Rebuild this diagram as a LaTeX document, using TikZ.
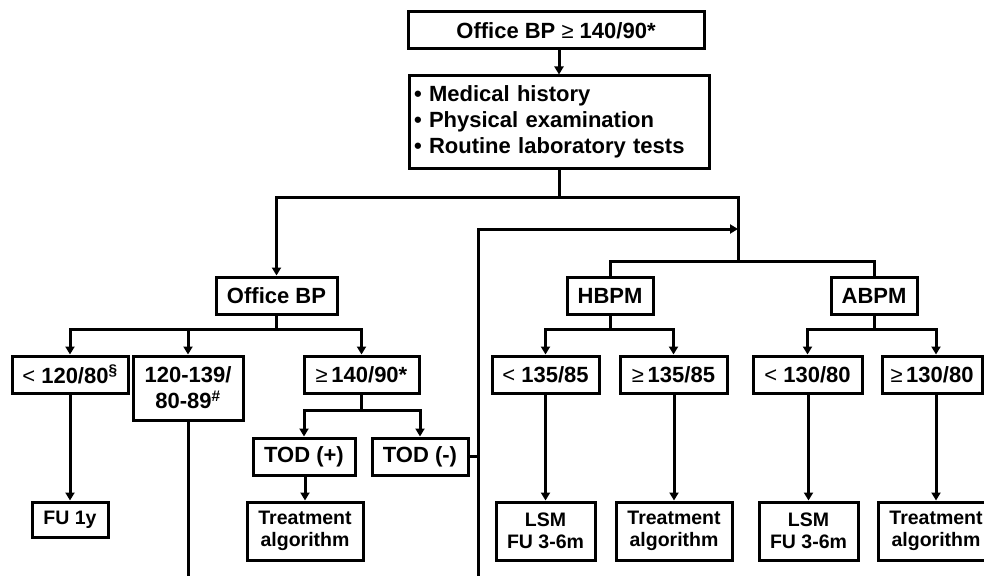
\documentclass[tikz,border=0pt]{standalone}
\usepackage{fontspec}
\setmainfont{Liberation Sans}
\usetikzlibrary{arrows.meta}
\newcommand{\thinsym}[1]{{\mdseries #1}}
\tikzset{
  box/.style={draw, line width=3pt, inner sep=0pt, align=center,
    font=\fontsize{22}{26}\selectfont\bfseries},
  smallbox/.style={box, font=\fontsize{19.5}{22.5}\selectfont\bfseries},
  conn/.style={line width=3pt},
  arr/.style={conn, -{Triangle[length=8pt,width=9pt]}}
}
\begin{document}
\begin{tikzpicture}[x=1pt,y=-1pt]
\fill[white] (0,0) rectangle (984,575);
\useasboundingbox (0,0) rectangle (984,575);
\clip (0,0) rectangle (984,575);

% level coordinates
\coordinate (lvl1) at (0,197);
\coordinate (j2) at (738,261);
\coordinate (rm) at (738,229);
\coordinate (rb) at (478,590);
\coordinate (lvl2) at (0,329);
\coordinate (lvl3) at (0,410);

% nodes
\node[box, minimum width=296, minimum height=37] (top) at (556,30.5) {Office BP \thinsym{≥} 140/90*};
\node[box, text width=290pt, align=left, inner xsep=5pt, minimum height=92] (hist) at (559,122)
  {• Medical history\\• Physical examination\\• Routine laboratory tests};

\node[box, minimum width=121, minimum height=37] (office) at (276.5,295.5) {Office BP};
\node[box, minimum width=86, minimum height=37] (hbpm) at (610,295.5) {HBPM};
\node[box, minimum width=86, minimum height=37] (abpm) at (874,295.5) {ABPM};

\node[box, minimum width=116, minimum height=37] (c1) at (70,374.5) {\thinsym{<} 120/80\textsuperscript{§}};
\node[box, minimum width=110, minimum height=64] (c2) at (188,388) {120-139/\\80-89\textsuperscript{\#}};
\node[box, minimum width=115, minimum height=37] (c3) at (361.5,374.5) {\thinsym{≥}\,140/90*};
\node[box, minimum width=107, minimum height=37] (h1) at (545.5,374.5) {\thinsym{<} 135/85};
\node[box, minimum width=107, minimum height=37] (h2) at (673.5,374.5) {\thinsym{≥}\,135/85};
\node[box, minimum width=109, minimum height=37] (a1) at (807.5,374.5) {\thinsym{<} 130/80};
\node[box, minimum width=100, minimum height=37] (a2) at (932,374.5) {\thinsym{≥}\,130/80};

\node[box, minimum width=102, minimum height=37] (tod1) at (304,456.5) {TOD (+)};
\node[box, minimum width=96, minimum height=37] (tod2) at (420,456.5) {TOD (-)};

\node[smallbox, minimum width=76, minimum height=35] (fu) at (70,519.5) {FU 1y};
\node[smallbox, minimum width=116, minimum height=58] (tr1) at (305,531) {Treatment\\algorithm};
\node[smallbox, minimum width=99, minimum height=58] (lsm1) at (545.5,531) {LSM\\FU 3-6m};
\node[smallbox, minimum width=116, minimum height=58] (tr2) at (674,531) {Treatment\\algorithm};
\node[smallbox, minimum width=99, minimum height=58] (lsm2) at (808.5,531) {LSM\\FU 3-6m};
\node[smallbox, minimum width=116, minimum height=58] (tr3) at (936,531) {Treatment\\algorithm};

% connectors
\draw[arr] (hist.north |- top.south) -- (hist.north);
\draw[arr] (hist.south) -- (hist.south |- lvl1) -| (office.north);
\draw[conn] (hist.south |- lvl1) -| (j2);
\draw[conn] (hbpm.north) |- (j2) -| (abpm.north);
\draw[arr] (rb) |- (rm);
\draw[conn] (tod2.east) -- (tod2.east -| rb);

\draw[arr] (office.south) -- (office.south |- lvl2) -| (c1.north);
\draw[arr] (office.south |- lvl2) -| (c3.north);
\draw[arr] (c2.north |- lvl2) -- (c2.north);

\draw[arr] (hbpm.south) -- (hbpm.south |- lvl2) -| (h1.north);
\draw[arr] (hbpm.south |- lvl2) -| (h2.north);
\draw[arr] (abpm.south) -- (abpm.south |- lvl2) -| (a1.north);
\draw[arr] (abpm.south |- lvl2) -| (tr3.north |- a2.north);

\draw[arr] (c3.south) -- (c3.south |- lvl3) -| (tod1.north);
\draw[arr] (c3.south |- lvl3) -| (tod2.north);

\draw[arr] (c1.south) -- (fu.north);
\draw[conn] (c2.south) -- (c2.south |- rb);
\draw[arr] (tr1.north |- tod1.south) -- (tr1.north);
\draw[arr] (h1.south) -- (lsm1.north);
\draw[arr] (tr2.north |- h2.south) -- (tr2.north);
\draw[arr] (lsm2.north |- a1.south) -- (lsm2.north);
\draw[arr] (tr3.north |- a2.south) -- (tr3.north);
\end{tikzpicture}
\end{document}
